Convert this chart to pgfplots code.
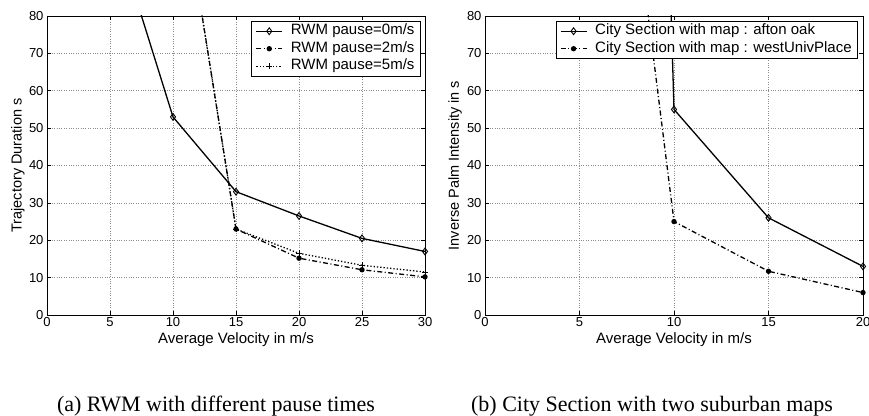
\documentclass[border=0pt]{standalone}
\usepackage{fontspec}
\setmainfont{Liberation Sans}
\newfontfamily\capfont{Liberation Serif}
\usepackage{pgfplots}
\pgfplotsset{compat=1.18}
\pgfplotsset{
  mstyle/.style={
    scale only axis, width=378pt, height=299pt, anchor=south west,
    ymin=0, ymax=80, ytick={0,10,...,80},
    grid=major, grid style={dotted, gray!90, line width=0.6pt},
    tick align=inside, tick pos=both, major tick length=4pt,
    axis line style={line width=0.9pt},
    tick style={black, line width=0.6pt},
    /pgf/number format/assume math mode=true,
    tick label style={font=\fontsize{13}{15}\selectfont},
    xticklabel style={yshift=1pt},
    xlabel style={font=\fontsize{15}{17}\selectfont, at={(axis description cs:0.5,-0.0836)}, anchor=center},
    ylabel style={font=\fontsize{14.5}{17}\selectfont},
    legend style={font=\fontsize{15}{17.5}\selectfont, draw=black, line width=0.8pt,
      inner xsep=4pt, inner ysep=1pt, row sep=0pt, cells={anchor=west},
      nodes={text height=11pt, text depth=3.5pt, inner ysep=1.5pt},
      /tikz/every odd column/.append style={column sep=6pt},
      legend image code/.code={\draw[mark repeat=2,mark phase=2] plot coordinates {(0pt,0pt) (13pt,0pt) (26pt,0pt)};}},
    legend cell align=left,
    every axis plot/.append style={line width=1.3pt, black},
    clip=true,
  },
  dd/.style={dash pattern=on 5pt off 2.5pt on 1pt off 2.5pt},
}
\begin{document}
\begin{tikzpicture}
\path[use as bounding box] (0pt,0pt) rectangle (869pt,415pt);
\begin{axis}[mstyle, at={(47pt,100pt)},
  xmin=0, xmax=30, xtick={0,5,...,30},
  xlabel={Average Velocity in m/s}, ylabel={Trajectory Duration s},
  ylabel style={at={(axis description cs:-0.077,0.5)}, anchor=center},
  legend style={at={(axis description cs:0.989,0.983)}, anchor=north east}]
\addplot[mark=diamond, mark size=3.4pt, mark options={solid, fill=white, line width=0.9pt}] coordinates {
(5,107) (10,53) (15,33) (20,26.5) (25,20.5) (30,17)};
\addlegendentry{RWM pause=0m/s}
\addplot[dd, mark=*, mark size=2pt, mark options={solid}] coordinates {
(10,129) (15,23) (20,15.2) (25,12.1) (30,10.2)};
\addlegendentry{RWM pause=2m/s}
\addplot[dotted, mark=+, mark size=3pt, mark options={solid, line width=0.9pt}] coordinates {
(10,129) (15,23) (20,16.5) (25,13.3) (30,11.5)};
\addlegendentry{RWM pause=5m/s}
\end{axis}
\begin{axis}[mstyle, at={(485pt,100pt)},
  xmin=0, xmax=20, xtick={0,5,...,20},
  xlabel={Average Velocity in m/s}, ylabel={Inverse Palm Intensity in s},
  ylabel style={at={(axis description cs:-0.079,0.5)}, anchor=center},
  legend style={at={(axis description cs:0.987,0.983)}, anchor=north east}]
\addplot[mark=diamond, mark size=3.4pt, mark options={solid, fill=white, line width=0.9pt}] coordinates {
(5,900) (10,55) (15,26) (20,13)};
\addlegendentry{City Section with map : afton oak}
\addplot[dd, mark=*, mark size=2pt, mark options={solid}] coordinates {
(5,227) (10,25) (15,11.7) (20,6)};
\addlegendentry{City Section with map : westUnivPlace}
\end{axis}
\node[font=\capfont\fontsize{22}{24}\selectfont, anchor=base] at (216pt,4pt) {(a) RWM with different pause times};
\node[font=\capfont\fontsize{22}{24}\selectfont, anchor=base] at (652pt,4pt) {(b) City Section with two suburban maps};
\end{tikzpicture}
\end{document}
